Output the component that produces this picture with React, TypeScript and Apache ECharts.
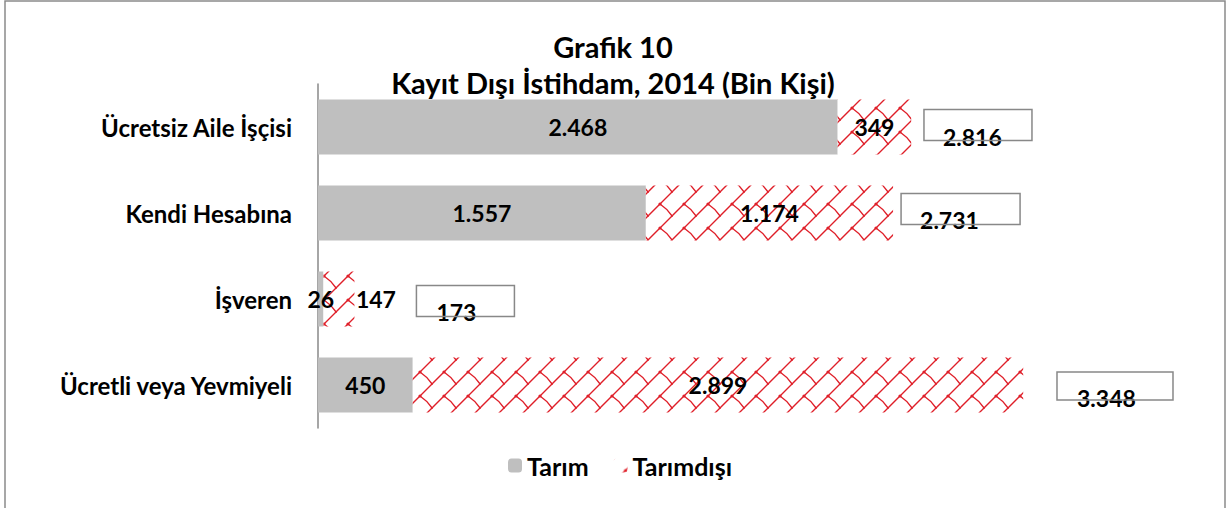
import React, { useEffect, useRef } from 'react';
import * as echarts from 'echarts';

const categories = ['Ücretsiz Aile İşçisi', 'Kendi Hesabına', 'İşveren', 'Ücretli veya Yevmiyeli'];
const tarim = [2468, 1557, 26, 450];
const tarimDisi = [349, 1174, 147, 2899];
const toplam = [2816, 2731, 173, 3348];
const seriesNames = ['Tarım', 'Tarımdışı'];
const titleLines = ['Grafik 10', 'Kayıt Dışı İstihdam, 2014 (Bin Kişi)'];

// label placement (styling only)
const boxLayout = [
  { dx: 13, dy: -2, w: 108, h: 31 },
  { dx: 8, dy: -4, w: 119, h: 31 },
  { dx: 62, dy: 2, w: 98, h: 31 },
  { dx: 34, dy: 1, w: 116, h: 28 },
];
const textLayout = [
  { dx: 32, dy: 10 },
  { dx: 27, dy: 7 },
  { dx: 82, dy: 13 },
  { dx: 54, dy: 13 },
];
const tarimDisiLabelShift = [0, 0, 37, 0];

const FONT = 'Lato';

function fmt(v: number): string {
  return String(v).replace(/\B(?=(\d{3})+(?!\d))/g, '.');
}

function makePattern(): HTMLCanvasElement {
  const s = 24;
  const c = document.createElement('canvas');
  c.width = s;
  c.height = s;
  const g = c.getContext('2d')!;
  g.fillStyle = '#ffffff';
  g.fillRect(0, 0, s, s);
  g.strokeStyle = '#df1f29';
  g.lineWidth = 1.4;
  g.lineCap = 'round';
  for (const ox of [-s, 0, s]) {
    for (const oy of [-s, 0, s]) {
      g.beginPath();
      g.moveTo(ox, oy + s);
      g.lineTo(ox + s, oy);
      g.moveTo(ox + s / 2, oy + s / 2);
      g.quadraticCurveTo(ox + s * 0.8, oy + s * 0.7, ox + s, oy + s);
      g.stroke();
      g.fillStyle = '#df1f29';
      g.beginPath();
      g.arc(ox + s / 2, oy + s / 2, 1.6, 0, Math.PI * 2);
      g.fill();
    }
  }
  return c;
}

export default function App() {
  const ref = useRef<HTMLDivElement>(null);
  useEffect(() => {
    document.body.style.margin = '0';
    const chart = echarts.init(ref.current!, null, { renderer: 'svg' });
    const pat = makePattern();
    const patternFill: any = { image: pat, repeat: 'repeat', imageWidth: 24, imageHeight: 24 };
    const labelBase = {
      show: true,
      color: '#000',
      fontSize: 23,
      fontWeight: 'bold' as const,
      fontFamily: FONT,
    };
    const option: any = {
      animation: false,
      backgroundColor: '#ffffff',
      title: {
        text: titleLines.join('\n'),
        left: 'center',
        top: 23,
        textStyle: {
          fontSize: 29,
          fontWeight: 'bold',
          fontFamily: FONT,
          color: '#000',
          lineHeight: 36,
        },
      },
      legend: {
        data: seriesNames,
        left: 503,
        top: 448,
        itemWidth: 14,
        itemHeight: 14,
        itemGap: 25,
        textStyle: { fontSize: 25, fontWeight: 'bold', fontFamily: FONT, color: '#000' },
      },
      grid: { left: 318, top: 84, width: 737, height: 344, containLabel: false },
      xAxis: { type: 'value', min: 0, max: 3500, show: false, splitLine: { show: false } },
      yAxis: {
        type: 'category',
        data: categories,
        inverse: true,
        axisLine: { show: true, lineStyle: { color: '#888888', width: 1.5 } },
        axisTick: { show: false },
        axisLabel: {
          margin: 26,
          fontSize: 24,
          fontWeight: 'bold',
          fontFamily: FONT,
          color: '#000',
        },
        splitLine: { show: false },
      },
      graphic: [
        {
          type: 'rect',
          shape: { x: 5, y: 1, width: 1220, height: 560 },
          style: { fill: 'none', stroke: '#8a8a8a', lineWidth: 1.5 },
          silent: true,
          z: -10,
        },
      ],
      series: [
        {
          name: seriesNames[0],
          type: 'bar',
          stack: 'main',
          barWidth: 55,
          barGap: '-100%',
          itemStyle: { color: '#bfbfbf' },
          label: { ...labelBase, position: 'inside', formatter: (p: any) => fmt(p.value) },
          data: tarim,
        },
        {
          name: seriesNames[1],
          type: 'bar',
          stack: 'main',
          barWidth: 55,
          barGap: '-100%',
          itemStyle: { color: patternFill },
          label: { ...labelBase, position: 'inside', formatter: (p: any) => fmt(p.value) },
          data: tarimDisi.map((v, i) => ({
            value: v,
            label: { offset: [tarimDisiLabelShift[i], 0] },
          })),
        },
        {
          name: 'ToplamText',
          type: 'bar',
          barWidth: 55,
          barGap: '-100%',
          silent: true,
          itemStyle: { color: 'rgba(0,0,0,0)' },
          label: { ...labelBase, position: 'right', distance: 0, formatter: (p: any) => fmt(p.value) },
          data: toplam.map((v, i) => ({
            value: v,
            label: { offset: [textLayout[i].dx, textLayout[i].dy] },
          })),
          z: 3,
        },
        {
          name: 'ToplamBox',
          type: 'bar',
          barWidth: 55,
          barGap: '-100%',
          silent: true,
          itemStyle: { color: 'rgba(0,0,0,0)' },
          label: {
            show: true,
            position: 'right',
            distance: 0,
            formatter: ' ',
            borderColor: '#888888',
            borderWidth: 1.5,
            padding: 0,
          },
          data: toplam.map((v, i) => ({
            value: v,
            label: {
              offset: [boxLayout[i].dx, boxLayout[i].dy],
              width: boxLayout[i].w,
              height: boxLayout[i].h,
            },
          })),
          z: 4,
        },
      ],
    };
    chart.setOption(option);
    return () => chart.dispose();
  }, []);
  return <div ref={ref} style={{ width: 1226, height: 508 }} />;
}
